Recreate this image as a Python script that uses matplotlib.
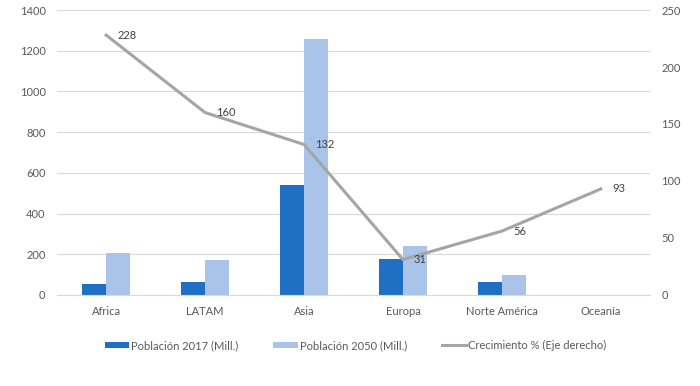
import numpy as np
import matplotlib
matplotlib.use("Agg")
import matplotlib.pyplot as plt

# Datos
regiones = ["Africa", "LATAM", "Asia", "Europa", "Norte América", "Oceanía"]
pob_2017 = [54, 65, 540, 177, 64, 0]
pob_2050 = [208, 172, 1257, 241, 98, 0]
crecimiento = [228, 160, 132, 31, 56, 93]

plt.rcParams['font.family'] = ['Lato', 'DejaVu Sans']
gris_txt = "#595959"

fig = plt.figure(figsize=(7, 3.86), dpi=100)
ax = fig.add_axes([0.081, 0.236, 0.848, 0.738])
ax2 = ax.twinx()

x = np.arange(len(regiones))
w = 0.24
b1 = ax.bar(x - w / 2, pob_2017, width=w, color="#1F6FC5", label="Población 2017 (Mill.)", zorder=2)
b2 = ax.bar(x + w / 2, pob_2050, width=w, color="#A9C4E8", label="Población 2050 (Mill.)", zorder=2)

ax.set_ylim(0, 1400)
ax.set_yticks(range(0, 1401, 200))
ax.set_xlim(-0.5, len(regiones) - 0.5)
ax.set_xticks(x)
ax.set_xticklabels(regiones)
ax.grid(axis="y", color="#D9D9D9", linewidth=0.8, zorder=0)
ax.set_axisbelow(True)
for s in ax.spines.values():
    s.set_visible(False)
ax.spines["bottom"].set_visible(True)
ax.spines["bottom"].set_color("#D9D9D9")
ax.tick_params(length=0, labelsize=8, colors=gris_txt, pad=8)

ln, = ax2.plot(x, crecimiento, color="#A5A5A5", linewidth=2.2, label="Crecimiento % (Eje derecho)", zorder=3)
ax2.set_ylim(0, 250)
ax2.set_yticks(range(0, 251, 50))
for s in ax2.spines.values():
    s.set_visible(False)
ax2.tick_params(length=0, labelsize=8, colors=gris_txt, pad=8)

for xi, v in zip(x, crecimiento):
    ax2.annotate(str(v), (xi, v), xytext=(8, 0), textcoords="offset points",
                 ha="left", va="center", fontsize=8, color="#404040")

fig.legend(handles=[b1, b2, ln], loc="center", bbox_to_anchor=(0.508, 0.105), ncol=3,
           frameon=False, fontsize=8, labelcolor=gris_txt, handlelength=2.2,
           handleheight=0.5, handletextpad=0.2, columnspacing=3.1)

fig.savefig("out.png", dpi=100)
